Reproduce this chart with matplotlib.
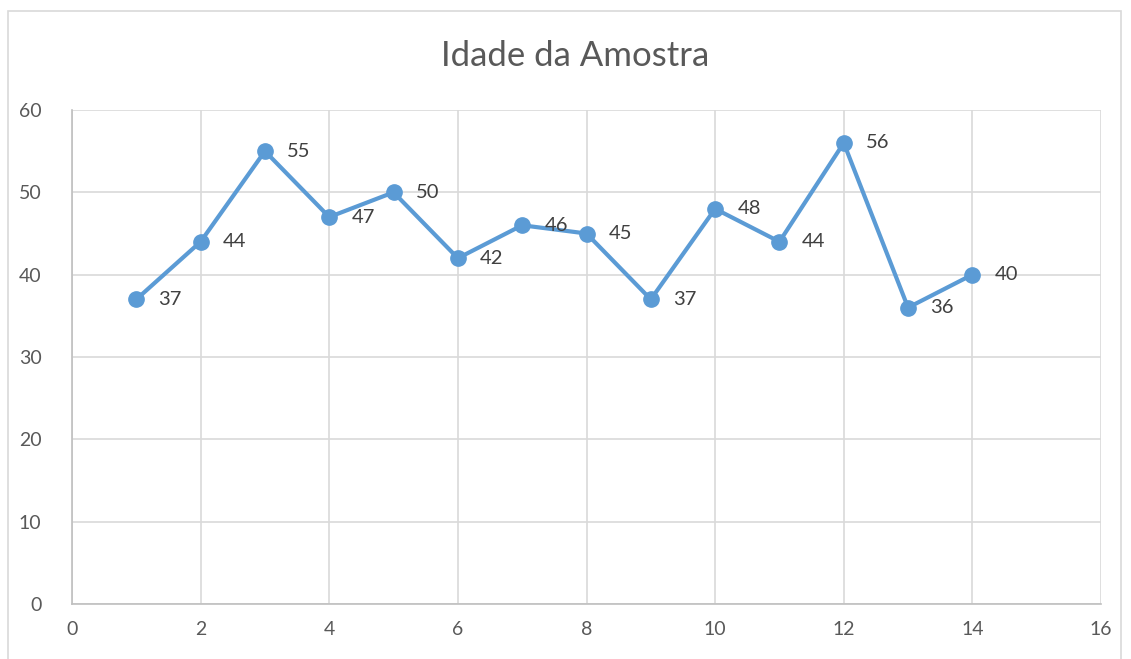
import matplotlib
matplotlib.use('Agg')
import matplotlib.pyplot as plt
from matplotlib.patches import Rectangle

# Sample data
amostra = [1, 2, 3, 4, 5, 6, 7, 8, 9, 10, 11, 12, 13, 14]
idade = [37, 44, 55, 47, 50, 42, 46, 45, 37, 48, 44, 56, 36, 40]
x_ticks = [0, 2, 4, 6, 8, 10, 12, 14, 16]
y_ticks = [0, 10, 20, 30, 40, 50, 60]

plt.rcParams['font.family'] = ['Lato', 'DejaVu Sans']

W, H = 1131, 659
fig = plt.figure(figsize=(W / 100, H / 100), dpi=100)
ax = fig.add_axes([72 / W, 1 - 604 / H, (1101 - 72) / W, (604 - 110) / H])

line_color = '#5b9bd5'
ax.plot(amostra, idade, color=line_color, linewidth=3, marker='o',
        markersize=11, zorder=3, clip_on=False)
for xv, yv in zip(amostra, idade):
    ax.annotate(str(yv), (xv, yv), xytext=(16, 0), textcoords='offset points',
                va='center', ha='left', fontsize=14.5, color='#404040')

ax.set_xlim(0, 16)
ax.set_ylim(0, 60)
ax.set_xticks(x_ticks)
ax.set_yticks(y_ticks)
ax.grid(True, color='#d9d9d9', linewidth=1.2)
ax.set_axisbelow(True)
for s in ['top', 'right']:
    ax.spines[s].set_visible(False)
for s in ['left', 'bottom']:
    ax.spines[s].set_color('#bfbfbf')
    ax.spines[s].set_linewidth(1.2)
ax.tick_params(length=0, labelsize=14, labelcolor='#595959', pad=12)
ax.tick_params(axis='y', pad=22)

fig.text(575 / W, 1 - 56 / H, 'Idade da Amostra', ha='center', va='center',
         fontsize=25, color='#595959')

# chart border
fig.patches.append(Rectangle((8 / W, -0.1), (1121 - 8) / W, 1.1 - 11 / H,
                             transform=fig.transFigure, fill=False,
                             edgecolor='#d9d9d9', linewidth=1.2))

fig.savefig('out.png', dpi=100)
